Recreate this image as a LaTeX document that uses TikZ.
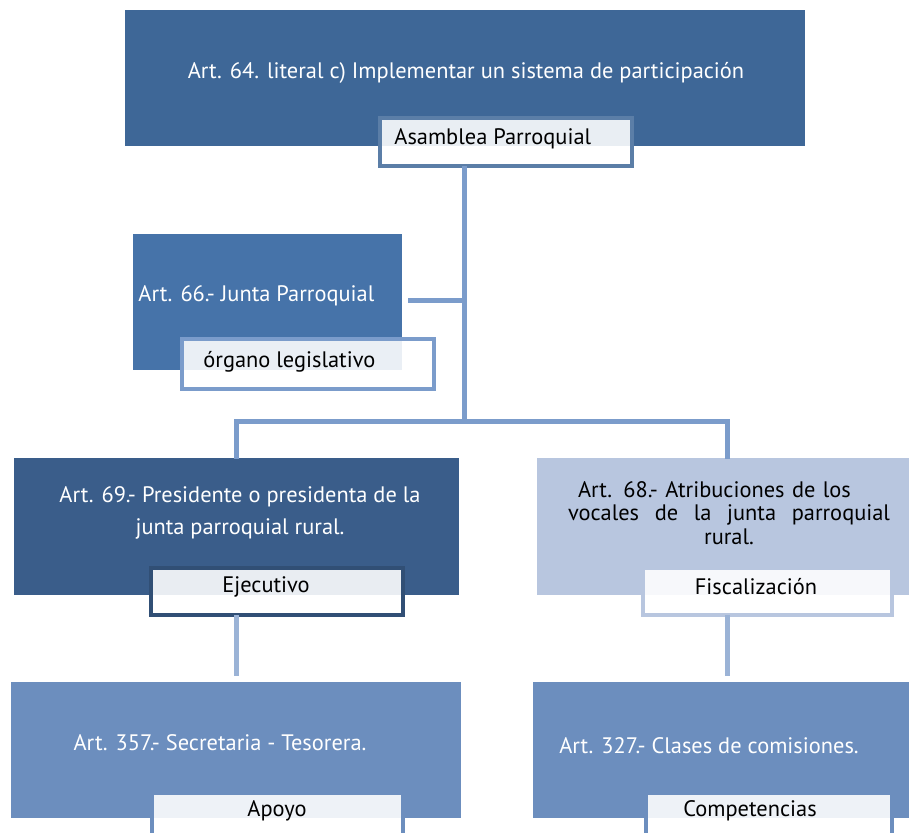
\documentclass[tikz,border=0pt]{standalone}
\usepackage{fontspec}
\setmainfont{PT Sans}
\definecolor{topblue}{RGB}{62,103,151}
\definecolor{juntablue}{RGB}{70,115,169}
\definecolor{presblue}{RGB}{58,93,138}
\definecolor{vocalblue}{RGB}{184,198,223}
\definecolor{lowblue}{RGB}{108,142,190}
\definecolor{linkblue}{RGB}{123,156,203}
\definecolor{paleblue}{RGB}{155,179,214}

\begin{document}
\begin{tikzpicture}[x=0.5pt,y=-0.5pt,
  box/.style={rectangle,inner sep=0pt,outer sep=0pt},
  tag/.style={rectangle,draw,line width=2pt,fill=white,fill opacity=0.89,inner sep=0pt,outer sep=0pt},
  wtxt/.style={text=white,font=\fontsize{11.2}{16}\selectfont,inner sep=0pt},
  btxt/.style={text=black,font=\fontsize{11.2}{12}\selectfont,inner sep=0pt},
  link/.style={draw=linkblue,line width=2.5pt}]
  \useasboundingbox (0,0) rectangle (909,832);
  \clip (0,0) rectangle (909,832);
  % top box
  \node[box,fill=topblue,minimum width=340pt,minimum height=68pt] (art64) at (465,78) {};
  \node[wtxt] (t64) at (466,73) {Art. 64. literal c) Implementar un sistema de participación};
  \node[tag,draw=topblue!85!white,minimum width=126pt,minimum height=24pt] (asam) at (506,142) {};
  \node[btxt,anchor=west] (tasam) at (394,139) {Asamblea Parroquial};
  % junta
  \node[box,fill=juntablue,minimum width=134.5pt,minimum height=68pt] (junta) at (267.5,302) {};
  \node[wtxt,anchor=west] (tjunta) at (138,296) {Art. 66.- Junta Parroquial};
  \node[tag,draw=linkblue,minimum width=126pt,minimum height=25pt] (organo) at (308,364) {};
  \node[btxt,anchor=west] (torgano) at (203,362) {órgano legislativo};
  % presidente
  \node[box,fill=presblue,minimum width=222.5pt,minimum height=68.5pt] (pres) at (236.5,526.5) {};
  \node[wtxt,align=center] (tpres) at (240,513) {Art. 69.- Presidente o presidenta de la\\junta parroquial rural.};
  \node[tag,draw=presblue!85!black,minimum width=126pt,minimum height=23.5pt] (ejec) at (277,591.5) {};
  \node[btxt] (tejec) at (266,587) {Ejecutivo};
  % vocales
  \node[box,fill=vocalblue,minimum width=186pt,minimum height=68.5pt] (vocal) at (723,526.5) {};
  \node[btxt,font=\fontsize{11.2}{11.75}\selectfont,align=center,text width=161pt] (tvocal) at (729,513)
    {\makebox[161pt][l]{\hspace{5pt}Art. 68.- Atribuciones de los}\\\makebox[161pt]{vocales\hfill de\hfill la\hfill junta\hfill parroquial}\\rural.};
  \node[tag,draw=vocalblue,minimum width=124.5pt,minimum height=23.5pt] (fisc) at (767.5,591.5) {};
  \node[btxt] (tfisc) at (756,587) {Fiscalización};
  % secretaria
  \node[box,fill=lowblue,minimum width=225pt,minimum height=68pt] (secr) at (236,750) {};
  \node[wtxt] (tsecr) at (220,743) {Art. 357.- Secretaria - Tesorera.};
  \node[tag,draw=lowblue,minimum width=125.5pt,minimum height=30pt] (apoyo) at (277.5,823) {};
  \node[btxt] (tapoyo) at (277,811) {Apoyo};
  % comisiones
  \node[box,fill=lowblue,minimum width=190pt,minimum height=68pt] (comis) at (723,750) {};
  \node[wtxt] (tcomis) at (709,746) {Art. 327.- Clases de comisiones.};
  \node[tag,draw=lowblue,minimum width=123pt,minimum height=30pt] (compe) at (769,823) {};
  \node[btxt] (tcompe) at (750,811) {Competencias};
  % connectors
  \coordinate (trunk) at (464,421);
  \coordinate (jend) at (408,300);
  \coordinate (ltop) at (236,456);
  \coordinate (rtop) at (727,456);
  \coordinate (ebot) at (236,615);
  \coordinate (fbot) at (727,615);
  \coordinate (sectop) at (236,676);
  \coordinate (comtop) at (727,676);
  \draw[link] (asam.south -| trunk) -- (trunk);
  \draw[link] (jend) -- (jend -| trunk);
  \draw[link,line cap=rect] (ltop) |- (trunk) -| (rtop);
  \draw[link,draw=paleblue] (ebot) -- (sectop);
  \draw[link,draw=paleblue] (fbot) -- (comtop);
\end{tikzpicture}
\end{document}
